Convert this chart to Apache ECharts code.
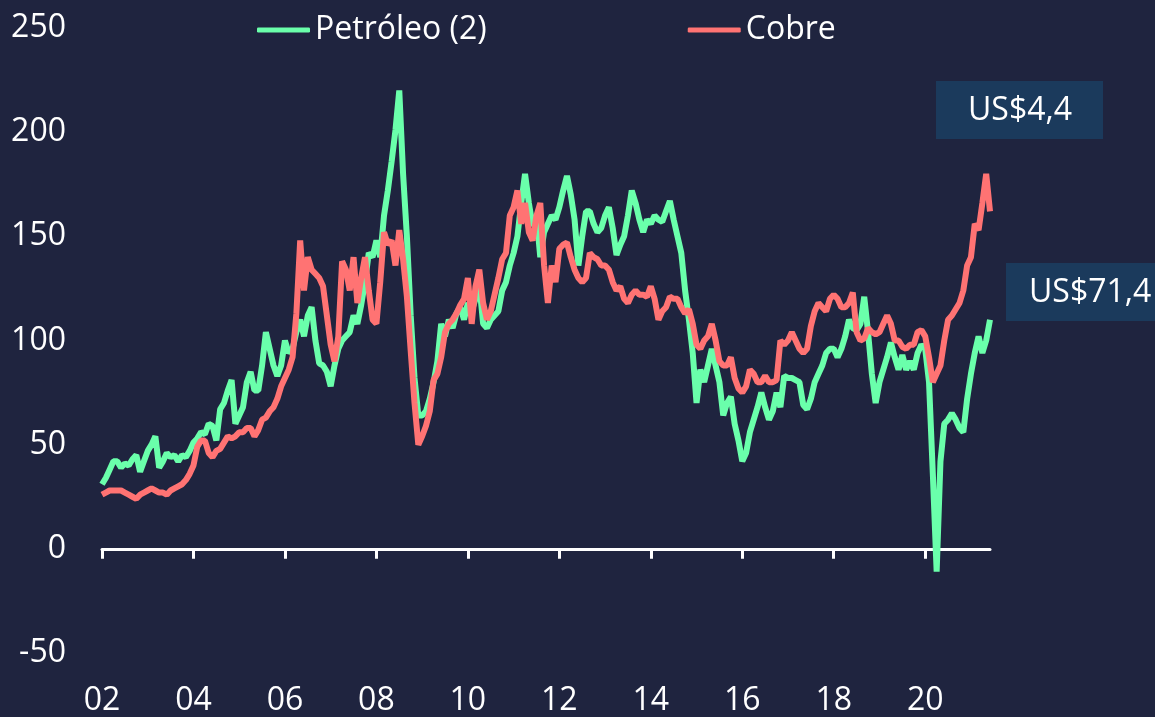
<!DOCTYPE html>
<html>
<head>
<meta charset="utf-8">
<script src="https://cdn.jsdelivr.net/npm/echarts@6/dist/echarts.min.js"></script>
<style>
  html, body { margin: 0; padding: 0; background: #1f243f; }
  #chart { width: 1155px; height: 717px; }
</style>
</head>
<body>
<div id="chart"></div>
<script>
// meses de ene-2002 a jun-2021
const months = []
for (let y = 2002; y <= 2021; y++) {
  for (let m = 1; m <= 12; m++) {
    if (y === 2021 && m > 6) break
    months.push(y + '-' + String(m).padStart(2, '0'))
  }
}

// Petróleo (2), índice
const petroleo = [
  31, 34, 38, 42, 42, 39, 41, 40, 43, 45, 37, 42,
  47, 50, 54, 39, 42, 46, 44, 45, 42, 45, 44, 47,
  51, 53, 56, 55, 60, 59, 52, 67, 70, 76, 81, 60,
  64, 68, 80, 85, 76, 76, 88, 104, 96, 88, 83, 88,
  100, 94, 96, 104, 110, 102, 112, 116, 100, 89, 88, 85,
  78, 88, 96, 100, 102, 104, 112, 108, 117, 128, 142, 140,
  148, 140, 160, 172, 186, 201, 220, 180, 150, 112, 82, 64,
  64, 66, 72, 80, 90, 108, 102, 110, 106, 113, 116, 110,
  118, 114, 120, 127, 108, 106, 110, 112, 114, 124, 128, 136,
  142, 150, 166, 180, 166, 155, 160, 140, 152, 156, 160, 158,
  164, 172, 179, 170, 158, 136, 150, 162, 162, 156, 152, 154,
  160, 164, 154, 141, 146, 150, 160, 172, 166, 158, 152, 158,
  156, 160, 158, 157, 162, 167, 158, 150, 142, 124, 110, 94,
  70, 86, 80, 88, 96, 88, 80, 64, 70, 73, 60, 52,
  42, 46, 56, 62, 68, 75, 68, 62, 66, 75, 68, 83,
  82, 82, 81, 80, 69, 67, 72, 80, 84, 88, 94, 96,
  96, 92, 96, 102, 110, 106, 105, 108, 121, 104, 84, 70,
  80, 86, 92, 99, 92, 86, 93, 86, 90, 86, 94, 98,
  96, 80, 36, -11, 42, 60, 62, 65, 62, 58, 56, 72,
  84, 94, 102, 94, 100, 110
]

// Cobre, índice
const cobre = [
  26, 27, 28, 28, 28, 28, 27, 26, 25, 24, 26, 27,
  28, 29, 28, 27, 27, 26, 28, 29, 30, 31, 33, 36,
  40, 49, 52, 52, 46, 44, 47, 48, 51, 54, 53, 54,
  56, 56, 58, 58, 54, 57, 62, 63, 66, 68, 72, 78,
  82, 86, 92, 113, 148, 124, 140, 134, 132, 130, 126, 112,
  98, 90, 102, 138, 134, 124, 140, 118, 130, 140, 124, 110,
  108, 128, 152, 146, 148, 136, 153, 139, 121, 95, 70, 50,
  54, 59, 66, 81, 84, 92, 104, 108, 110, 113, 117, 120,
  130, 108, 126, 134, 118, 110, 114, 122, 130, 139, 142, 160,
  164, 172, 156, 166, 152, 148, 160, 166, 136, 118, 136, 128,
  144, 146, 147, 140, 134, 130, 128, 130, 142, 140, 139, 136,
  136, 134, 128, 124, 126, 120, 118, 122, 124, 122, 122, 121,
  126, 120, 110, 114, 116, 121, 120, 120, 116, 113, 115, 108,
  98, 96, 100, 102, 108, 100, 90, 88, 88, 92, 82, 77,
  75, 78, 86, 84, 80, 80, 83, 80, 80, 81, 100, 98,
  100, 104, 100, 96, 94, 96, 107, 114, 118, 116, 114, 120,
  122, 120, 116, 116, 118, 123, 104, 100, 101, 106, 104, 103,
  104, 108, 112, 108, 100, 100, 97, 96, 98, 98, 104, 105,
  102, 92, 80, 84, 88, 100, 110, 112, 115, 118, 124, 136,
  140, 156, 153, 166, 180, 162
]

const seriesNames = ['Petróleo (2)', 'Cobre']
const lastLabels = ['US$4,4', 'US$71,4']

const font = '"Open Sans", "Noto Sans", sans-serif'
const everyTwoYears = function (index) {
  return index % 24 === 0
}

let chart = echarts.init(document.getElementById('chart'), null, { renderer: 'canvas' })
chart.setOption({
  backgroundColor: '#1f243f',
  animation: false,
  textStyle: { fontFamily: font },
  grid: {
    left: 102,
    right: 165,
    top: 28,
    bottom: 60,
    containLabel: false
  },
  legend: {
    left: 257,
    top: 14,
    padding: 0,
    itemGap: 201,
    itemWidth: 53,
    itemHeight: 5,
    icon: 'roundRect',
    textStyle: { color: '#ffffff', fontSize: 32, fontFamily: font },
    data: seriesNames
  },
  xAxis: [
    {
      // línea del cero con marcas
      type: 'category',
      data: months,
      boundaryGap: false,
      axisLine: { show: true, onZero: true, lineStyle: { color: '#ffffff', width: 3 } },
      axisTick: { show: true, interval: everyTwoYears, length: 10, lineStyle: { color: '#ffffff', width: 3 } },
      axisLabel: { show: false },
      splitLine: { show: false }
    },
    {
      // etiquetas abajo
      type: 'category',
      data: months,
      boundaryGap: false,
      position: 'bottom',
      axisLine: { show: false, onZero: false },
      axisTick: { show: false },
      splitLine: { show: false },
      axisLabel: {
        interval: everyTwoYears,
        margin: 32,
        color: '#ffffff',
        fontSize: 32,
        fontFamily: font,
        formatter: function (value) {
          return value.slice(2, 4)
        }
      }
    }
  ],
  yAxis: {
    type: 'value',
    min: -50,
    max: 250,
    interval: 50,
    axisLine: { show: false },
    axisTick: { show: false },
    splitLine: { show: false },
    axisLabel: { color: '#ffffff', fontSize: 32, margin: 36, fontFamily: font, padding: [0, 0, 4, 0] }
  },
  series: [
    {
      name: seriesNames[0],
      type: 'line',
      xAxisIndex: 0,
      showSymbol: false,
      color: '#6affab',
      lineStyle: { width: 6, color: '#6affab' },
      data: petroleo
    },
    {
      name: seriesNames[1],
      type: 'line',
      xAxisIndex: 0,
      showSymbol: false,
      color: '#ff7373',
      lineStyle: { width: 6, color: '#ff7373' },
      data: cobre
    }
  ],
  graphic: [
    {
      type: 'group',
      left: 936,
      top: 81,
      children: [
        { type: 'rect', shape: { x: 0, y: 0, width: 167, height: 58 }, style: { fill: '#1b3a5c' } },
        { type: 'text', x: 32, y: 30, style: { text: lastLabels[0], fill: '#ffffff', fontSize: 32, fontFamily: font, verticalAlign: 'middle' } }
      ]
    },
    {
      type: 'group',
      left: 1006,
      top: 263,
      children: [
        { type: 'rect', shape: { x: 0, y: 0, width: 149, height: 58 }, style: { fill: '#1b3a5c' } },
        { type: 'text', x: 23, y: 30, style: { text: lastLabels[1], fill: '#ffffff', fontSize: 32, fontFamily: font, verticalAlign: 'middle' } }
      ]
    }
  ]
})
</script>
</body>
</html>
